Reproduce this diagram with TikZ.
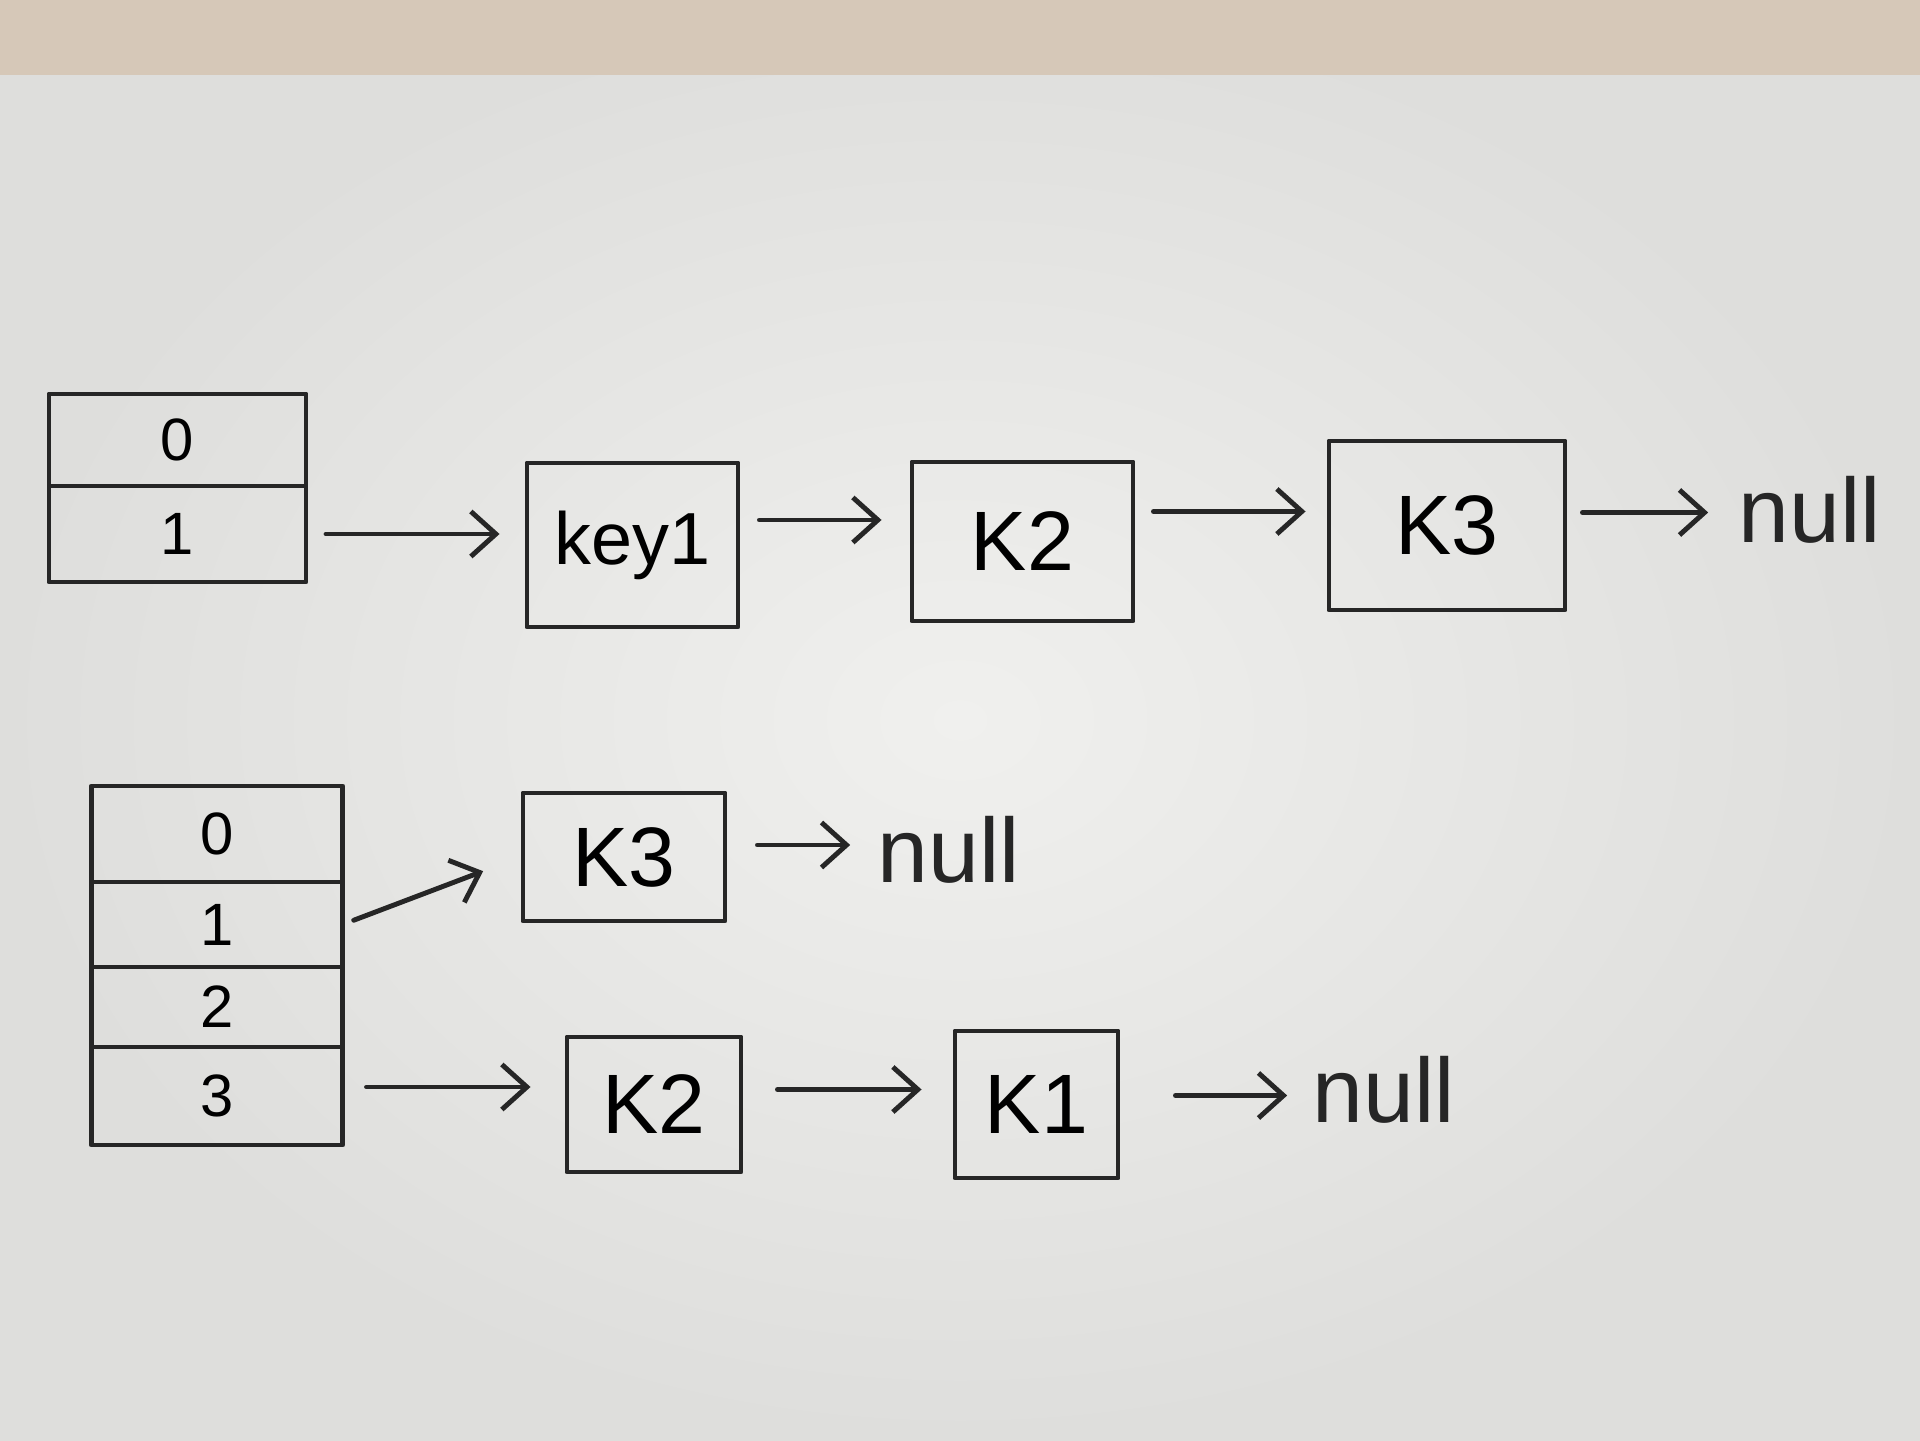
\documentclass[tikz,border=0pt]{standalone}
\usepackage{fontspec}
\setmainfont{Liberation Sans}
\usetikzlibrary{arrows.meta,positioning}

\definecolor{inkgray}{RGB}{38,38,38}
\definecolor{paperwhite}{RGB}{240,240,238}
\definecolor{papershade}{RGB}{222,222,220}
\definecolor{woodtan}{RGB}{214,200,184}

\tikzset{
  slot/.style={draw=inkgray,line width=1.4pt,minimum width=2.57cm,inner sep=0pt,
    outer sep=0pt,font=\fontsize{17}{20}\selectfont},
  entry/.style={draw=inkgray,line width=1.4pt,inner sep=0pt,
    font=\fontsize{24}{28}\selectfont},
  nulltext/.style={inkgray,inner sep=0pt,font=\fontsize{26}{30}\selectfont},
  link/.style={inkgray,line width=1.4pt,
    -{Straight Barb[length=2.5mm,width=4.5mm,line width=1.4pt]},
    shorten <=0.2cm,shorten >=0.25cm}
}

\begin{document}
\begin{tikzpicture}[x=1cm,y=1cm,line cap=round,line join=round]
        \useasboundingbox (0,0) rectangle (19.2,14.4);

        % Fondo: hoja y mesa
        \shade[inner color=paperwhite,outer color=papershade] (0,0) rectangle (19.2,14.4);
        \fill[woodtan] (0,13.65) rectangle (19.2,14.4);

        % Tabla superior (2 posiciones)
        \node[slot,minimum height=0.92cm] (t0) at (1.775,10.00) {0};
        \node[slot,minimum height=0.96cm,below=0pt of t0] (t1) {1};

        % Lista enlazada de la posicion 1
        \node[entry,minimum width=2.11cm,minimum height=1.64cm,
              font=\fontsize{21}{25}\selectfont] (key1) at (6.325,8.95) {key1};
        \node[entry,minimum width=2.21cm,minimum height=1.59cm] (ktwo) at (10.225,8.985) {K2};
        \node[entry,minimum width=2.36cm,minimum height=1.69cm] (kthree) at (14.47,9.145) {K3};
        \node[nulltext] (nulltop) at (18.10,9.30) {null};

        \draw[link] (t1.east) -- (t1.east -| key1.west);
        \draw[link,shorten <=0.19cm,shorten >=0.28cm]
            ([yshift=0.25cm]key1.east) -- ([yshift=0.25cm]key1.east -| ktwo.west);
        \draw[link,shorten <=0.18cm,shorten >=0.21cm]
            ([yshift=0.3cm]ktwo.east) -- ([yshift=0.3cm]ktwo.east -| kthree.west);
        \draw[link,shorten <=0.15cm,shorten >=0.3cm]
            ([yshift=0.13cm]kthree.east) -- ([yshift=0.13cm]kthree.east -| nulltop.west);

        % Tabla inferior (4 posiciones)
        \node[slot,minimum width=2.51cm,minimum height=0.96cm] (b0) at (2.17,6.06) {0};
        \node[slot,minimum width=2.51cm,minimum height=0.85cm,below=0pt of b0] (b1) {1};
        \node[slot,minimum width=2.51cm,minimum height=0.80cm,below=0pt of b1] (b2) {2};
        \node[slot,minimum width=2.51cm,minimum height=0.98cm,below=0pt of b2] (b3) {3};

        % Posicion 1 -> K3
        \node[entry,minimum width=2.02cm,minimum height=1.28cm] (bkthree) at (6.24,5.83) {K3};
        \node[nulltext] (nullmid) at (9.49,5.90) {null};
        \draw[link,shorten <=0.12cm,shorten >=0.4cm] (b1.east) -- (bkthree.west);
        \draw[link,shorten <=0.3cm,shorten >=0.27cm]
            ([yshift=0.12cm]bkthree.east) -- ([yshift=0.12cm]bkthree.east -| nullmid.west);

        % Posicion 3 -> K2 -> K1
        \node[entry,minimum width=1.74cm,minimum height=1.35cm] (bktwo) at (6.54,3.355) {K2};
        \node[entry,minimum width=1.63cm,minimum height=1.47cm] (bkone) at (10.365,3.355) {K1};
        \node[nulltext] (nullbot) at (13.84,3.50) {null};
        \draw[link,shorten <=0.24cm,shorten >=0.34cm]
            ([yshift=0.09cm]b3.east) -- ([yshift=0.09cm]b3.east -| bktwo.west);
        \draw[link,shorten <=0.34cm,shorten >=0.31cm]
            ([yshift=0.15cm]bktwo.east) -- ([yshift=0.15cm]bktwo.east -| bkone.west);
        \draw[link,shorten <=0.55cm,shorten >=0.25cm]
            ([yshift=0.09cm]bkone.east) -- ([yshift=0.09cm]bkone.east -| nullbot.west);
\end{tikzpicture}
\end{document}
